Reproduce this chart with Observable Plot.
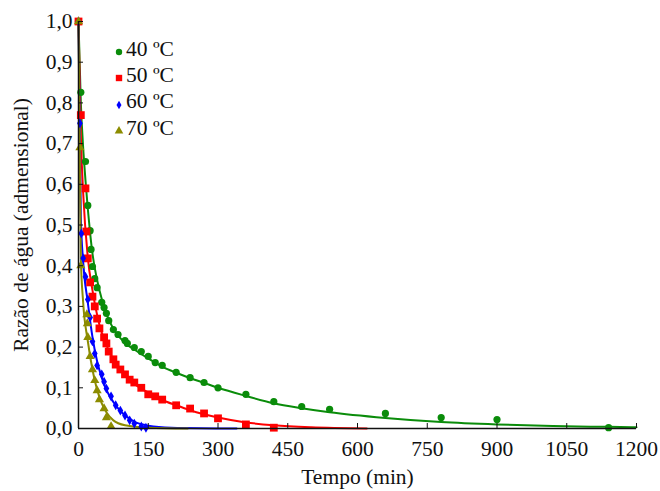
<!DOCTYPE html>
<html><head><meta charset="utf-8">
<script src="https://cdn.jsdelivr.net/npm/d3@7"></script>
<script src="https://cdn.jsdelivr.net/npm/@observablehq/plot@0.6"></script>
<style>
body{margin:0;background:#fff;}
#wrap{position:relative;width:660px;height:491px;font-family:"Liberation Serif","Times New Roman",serif;}
#legend{position:absolute;left:113px;top:36px;font-size:21.5px;color:#111;}
#legend div{display:flex;align-items:center;height:26.3px;}
#legend svg{margin-right:1px;position:relative;top:3px;}
</style>
</head><body>
<div id="wrap"><div id="chart"></div><div id="legend"></div></div>
<script>
// ---- data ----
const seriesNames = ["40 ºC", "50 ºC", "60 ºC", "70 ºC"];
const seriesColors = ["#0a8c0a", "#ff0000", "#0000ff", "#8c8c00"];
const seriesSymbols = ["circle", "square", "diamond", "triangle"];

// observed points
const t40 = [0, 5, 15, 20, 25, 27, 30, 35, 40, 50, 55, 60, 65, 75, 85, 100, 105, 120, 135, 150, 165, 180, 210, 240, 270, 300, 360, 420, 480, 540, 660, 780, 900, 1140];
const v40 = [1.0, 0.826, 0.656, 0.548, 0.486, 0.44, 0.398, 0.368, 0.346, 0.31, 0.297, 0.283, 0.265, 0.243, 0.231, 0.216, 0.209, 0.199, 0.189, 0.177, 0.162, 0.155, 0.138, 0.125, 0.113, 0.10, 0.084, 0.066, 0.054, 0.047, 0.037, 0.027, 0.022, 0.002];

const t50 = [0, 5, 15, 17, 20, 25, 30, 35, 40, 45, 55, 60, 65, 75, 80, 90, 100, 110, 120, 135, 150, 165, 180, 210, 240, 270, 300, 360, 420];
const v50 = [1.0, 0.77, 0.59, 0.484, 0.418, 0.359, 0.324, 0.30, 0.27, 0.246, 0.224, 0.209, 0.189, 0.17, 0.157, 0.145, 0.133, 0.12, 0.113, 0.10, 0.084, 0.079, 0.071, 0.057, 0.049, 0.037, 0.025, 0.01, 0.002];

const t60 = [0, 3, 6, 10, 15, 20, 25, 30, 35, 40, 50, 55, 60, 70, 80, 90, 100, 110, 120, 135, 145];
const v60 = [1.0, 0.75, 0.479, 0.418, 0.373, 0.317, 0.273, 0.214, 0.184, 0.155, 0.133, 0.115, 0.098, 0.079, 0.057, 0.044, 0.032, 0.02, 0.012, 0.005, 0.002];

const t70 = [0, 3, 5, 18, 19, 20, 25, 30, 35, 40, 45, 55, 60, 70];
const v70 = [1.0, 0.69, 0.40, 0.28, 0.258, 0.224, 0.177, 0.145, 0.118, 0.093, 0.071, 0.049, 0.027, 0.005];

// fitted curves
const f40t = [0, 5, 10, 15, 20, 25, 30, 40, 50, 60, 75, 90, 105, 120, 150, 180, 210, 240, 270, 300, 360, 420, 480, 540, 660, 780, 900, 1020, 1140, 1200];
const f40v = [1.0, 0.80, 0.69, 0.61, 0.54, 0.48, 0.43, 0.365, 0.318, 0.282, 0.245, 0.222, 0.206, 0.194, 0.172, 0.152, 0.137, 0.124, 0.112, 0.100, 0.080, 0.062, 0.050, 0.040, 0.026, 0.016, 0.010, 0.006, 0.004, 0.003];

const f50t = [0, 5, 10, 20, 30, 45, 60, 75, 90, 120, 150, 180, 210, 240, 300, 360, 420, 500, 620];
const f50v = [1.0, 0.72, 0.58, 0.42, 0.34, 0.255, 0.205, 0.17, 0.145, 0.11, 0.088, 0.07, 0.057, 0.045, 0.027, 0.015, 0.008, 0.003, 0.0];

const f60t = [0, 5, 10, 20, 30, 40, 50, 60, 75, 90, 105, 120, 150, 200, 340];
const f60v = [1.0, 0.52, 0.41, 0.31, 0.225, 0.165, 0.125, 0.095, 0.065, 0.043, 0.028, 0.017, 0.007, 0.002, 0.0];

const f70t = [0, 5, 10, 20, 30, 40, 50, 60, 75, 100, 150, 235];
const f70v = [1.0, 0.42, 0.31, 0.215, 0.145, 0.095, 0.062, 0.04, 0.02, 0.008, 0.002, 0.0];

const xTicks = [0, 150, 300, 450, 600, 750, 900, 1050, 1200];
const yTicks = [0, 0.1, 0.2, 0.3, 0.4, 0.5, 0.6, 0.7, 0.8, 0.9, 1.0];

// ---- build ----
const obsT = [t40, t50, t60, t70], obsV = [v40, v50, v60, v70];
const fitT = [f40t, f50t, f60t, f70t], fitV = [f40v, f50v, f60v, f70v];
const symR = [3.6, 4.4, 3.0, 3.4];
const legR = [3.2, 3.6, 2.6, 3.2];

const marks = [];
seriesNames.forEach((s, i) => {
  const fit = fitT[i].map((t, j) => ({t, v: fitV[i][j]}));
  marks.push(Plot.line(fit, {x: "t", y: "v", stroke: seriesColors[i], strokeWidth: 2, curve: "monotone-x"}));
});
seriesNames.forEach((s, i) => {
  const obs = obsT[i].map((t, j) => ({t, v: obsV[i][j]}));
  marks.push(Plot.dot(obs, {x: "t", y: "v", symbol: seriesSymbols[i], fill: seriesColors[i], stroke: "none", r: symR[i]}));
});

const fmt = d => d.toFixed(1).replace(".", ",");

const chart = Plot.plot({
  width: 660, height: 491,
  marginLeft: 78, marginRight: 24, marginTop: 21, marginBottom: 63,
  style: {fontFamily: "'Liberation Serif', 'Times New Roman', serif", fontSize: "21.5px", color: "#111", background: "white"},
  x: {domain: [0, 1200]},
  y: {domain: [0, 1.0]},
  marks: [
    ...marks,
    Plot.ruleX([0], {stroke: "#111", strokeWidth: 1.5}),
    Plot.ruleY([0], {stroke: "#111", strokeWidth: 1.5}),
    Plot.axisX({ticks: xTicks, tickFormat: d => String(d), tickSize: -5, tickPadding: 17, fontSize: 21.5,
      label: "Tempo (min)", labelAnchor: "center", labelArrow: "none", labelOffset: 55}),
    Plot.axisY({ticks: yTicks, tickFormat: fmt, tickSize: -5, tickPadding: 11, fontSize: 21.5,
      label: "Razão de água (admensional)", labelAnchor: "center", labelArrow: "none", labelOffset: 66})
  ]
});
document.getElementById("chart").appendChild(chart);

// legend
const leg = document.getElementById("legend");
seriesNames.forEach((s, i) => {
  const row = document.createElement("div");
  const sym = d3.symbol(d3["symbol" + seriesSymbols[i][0].toUpperCase() + seriesSymbols[i].slice(1)], Math.PI * legR[i] * legR[i])();
  row.innerHTML = `<svg width="12" height="12" viewBox="-6 -6 12 12"><path d="${sym}" fill="${seriesColors[i]}"/></svg><span>${s}</span>`;
  leg.appendChild(row);
});
</script>
</body></html>
